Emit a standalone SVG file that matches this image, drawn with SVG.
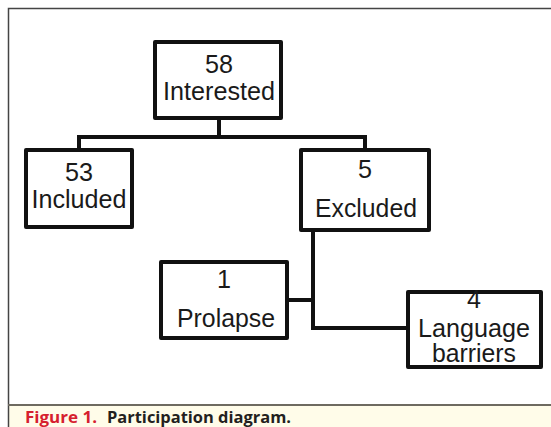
<svg xmlns="http://www.w3.org/2000/svg" width="551" height="427" viewBox="0 0 551 427">
<style>
.box{fill:#fff;stroke:#111;stroke-width:4;stroke-linejoin:round}
.conn{fill:none;stroke:#111;stroke-width:4;stroke-linejoin:miter}
.t{font-family:"Liberation Sans",Arial,sans-serif;font-size:26px;fill:#1a1a1a;text-anchor:middle}
.s{font-size:25px}
.cap{font-family:"Open Sans","DejaVu Sans",sans-serif;font-size:16px;font-weight:bold}
</style>
<rect x="0" y="0" width="551" height="427" fill="#fff"/>
<rect x="8" y="405" width="543" height="22" fill="#fffce9"/>
<path d="M8.5 427 V8.5 H551" fill="none" stroke="#444" stroke-width="1.5"/>
<line x1="8" y1="405" x2="551" y2="405" stroke="#6e6a60" stroke-width="2"/>
<g id="connectors">
<path class="conn" d="M219 118 V137 M79 148 V137 H365 V148"/>
<path class="conn" d="M313 230 V328 H407 M288 300 H313"/>
</g>
<g id="interested">
<rect class="box" x="155" y="42" width="126" height="76"/>
<text class="t" x="219" y="73" textLength="28" lengthAdjust="spacingAndGlyphs">58</text>
<text class="t" x="219" y="100" textLength="112" lengthAdjust="spacingAndGlyphs">Interested</text>
</g>
<g id="included">
<rect class="box" x="26" y="150" width="106" height="77"/>
<text class="t s" x="79" y="181" textLength="28" lengthAdjust="spacingAndGlyphs">53</text>
<text class="t" x="79" y="208" textLength="95" lengthAdjust="spacingAndGlyphs">Included</text>
</g>
<g id="excluded">
<rect class="box" x="301" y="150" width="128" height="80"/>
<text class="t" x="365" y="178" textLength="14" lengthAdjust="spacingAndGlyphs">5</text>
<text class="t" x="366" y="217" textLength="102" lengthAdjust="spacingAndGlyphs">Excluded</text>
</g>
<g id="prolapse">
<rect class="box" x="161" y="262" width="126" height="76"/>
<text class="t" x="224" y="288" textLength="14" lengthAdjust="spacingAndGlyphs">1</text>
<text class="t" x="226" y="327" textLength="98" lengthAdjust="spacingAndGlyphs">Prolapse</text>
</g>
<g id="language">
<rect class="box" x="408" y="292" width="133" height="75"/>
<text class="t s" x="474" y="308" textLength="14" lengthAdjust="spacingAndGlyphs">4</text>
<text class="t s" x="474" y="337" textLength="112" lengthAdjust="spacingAndGlyphs">Language</text>
<text class="t s" x="474" y="362" textLength="84" lengthAdjust="spacingAndGlyphs">barriers</text>
</g>
<text class="cap" y="423"><tspan x="25" fill="#d6202e" textLength="72" lengthAdjust="spacingAndGlyphs">Figure 1.</tspan><tspan x="107" fill="#231f20" textLength="184" lengthAdjust="spacingAndGlyphs">Participation diagram.</tspan></text>
</svg>
